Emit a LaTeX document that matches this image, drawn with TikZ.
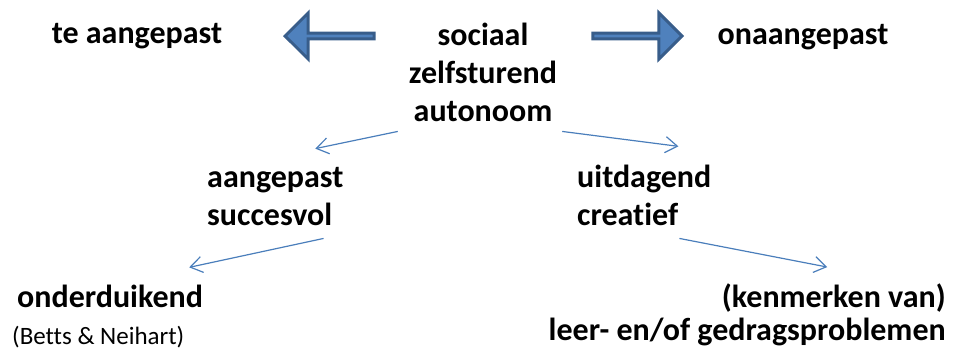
\documentclass[tikz,border=0pt]{standalone}
\usepackage{fontspec}
\setmainfont{Carlito}[Ligatures=NoCommon]
\usepackage{xcolor}
\usepackage{tikz}
\usetikzlibrary{positioning,shapes.arrows,arrows.meta}

\definecolor{fatblue}{HTML}{4F81BD}
\definecolor{fatedge}{HTML}{385D8A}
\definecolor{thinblue}{HTML}{4A7EBB}

\begin{document}
\begin{tikzpicture}[
		x=1pt, y=1pt,
		textnode/.style={inner sep=0pt, font=\fontsize{32}{38}\selectfont\bfseries},
		smallnode/.style={inner sep=0pt, font=\fontsize{25}{30}\selectfont},
		fatarrow/.style={single arrow, draw=fatedge, fill=fatblue, line width=3pt, inner sep=0pt,
			minimum height=89pt, minimum width=46pt, single arrow head extend=11pt},
		thinarrow/.style={draw=thinblue, line width=1.2pt, -{Straight Barb[length=12pt,width=16pt]}},
	]
		\useasboundingbox (0,0) rectangle (954,-351);

		% nodes
		\node[textnode, anchor=base] (tooadapted)	at (137,-43)	{te aangepast};
		\node[fatarrow, shape border rotate=180] (leftarrow)	at (331,-36)	{};
		\node[textnode, anchor=base, align=center] (centre)	at (483,-121)	{sociaal\\zelfsturend\\autonoom};
		\node[fatarrow] (rightarrow)	at (636,-36)	{};
		\node[textnode, anchor=base] (notadapted)	at (803,-44)	{onaangepast};

		\node[textnode, anchor=base west, align=left] (adapted)	at (207,-225)	{aangepast\\succesvol};
		\node[textnode, anchor=base west, align=left] (challenging)	at (577,-225)	{uitdagend\\creatief};

		\node[textnode, anchor=base west] (diving)	at (17,-307)	{onderduikend};
		\node[smallnode, anchor=base west] (source)	at (12,-344)	{(Betts \& Neihart)};
		\node[textnode, anchor=base east, align=right, font=\fontsize{32}{33}\selectfont\bfseries] (problems)	at (946,-340)	{(kenmerken van)\\leer- en/of gedragsproblemen};

		% lines
		\draw[thinarrow] ([xshift=-11pt, yshift=-10pt]centre.south west) -- ([xshift=40pt, yshift=18pt]adapted.north);
		\draw[thinarrow] ([xshift=5pt, yshift=-10pt]centre.south east) -- ([xshift=-33pt, yshift=18pt]challenging.north east);
		\draw[thinarrow] ([xshift=-20pt, yshift=-13pt]adapted.south east) -- ([xshift=-14pt, yshift=17pt]diving.north east);
		\draw[thinarrow] ([xshift=-32pt, yshift=-13pt]challenging.south east) -- ([xshift=80pt, yshift=16pt]problems.north);
	\end{tikzpicture}
\end{document}
